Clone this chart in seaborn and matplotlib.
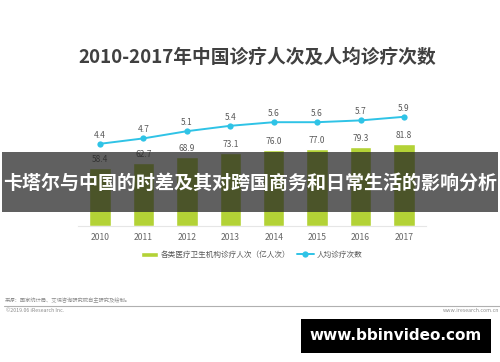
import numpy as np
import pandas as pd
import matplotlib
matplotlib.use("Agg")
import matplotlib.pyplot as plt
from matplotlib.patches import Rectangle
import seaborn as sns

# --------------------------------------------
# Data
# --------------------------------------------
years = ["2010", "2011", "2012", "2013", "2014", "2015", "2016", "2017"]
visits = [58.4, 62.7, 68.9, 73.1, 76.0, 77.0, 79.3, 81.8]      # 亿人次
per_capita = [4.4, 4.7, 5.1, 5.4, 5.6, 5.6, 5.7, 5.9]

title = "2010-2017年中国诊疗人次及人均诊疗次数"
banner = "卡塔尔与中国的时差及其对跨国商务和日常生活的影响分析"
bar_label = "各类医疗卫生机构诊疗人次（亿人次）"
line_label = "人均诊疗次数"

df = pd.DataFrame({"year": years, "visits": visits, "per_capita": per_capita})

# --------------------------------------------
# Style
# --------------------------------------------
sns.set_style("white")
plt.rcParams["font.family"] = ["Noto Sans CJK SC", "DejaVu Sans"]

W, H = 500, 362
fig = plt.figure(figsize=(W / 100, H / 100), dpi=100)
fig.patch.set_facecolor("white")

def fx(px):
    return px / W

def fy(py):
    return 1 - py / H

bar_color = "#b3d236"
line_color = "#2fc3e6"
text_gray = "#595959"

# axes: x from 78.3 to 425.7 px, y from 100 to 226 px
ax = fig.add_axes([fx(78.3), fy(226), fx(425.7 - 78.3), (226 - 100) / H])
sns.barplot(data=df, x="year", y="visits", color=bar_color, width=0.49,
            saturation=1, ax=ax, label=bar_label)
ax.set_xlim(-0.5, 7.5)
ax.set_ylim(0, 126)

for i, v in enumerate(visits):
    ax.text(i, v + 4, f"{v:.1f}", ha="center", va="bottom",
            fontsize=6, color=text_gray)

ax2 = ax.twinx()
sns.lineplot(x=np.arange(len(years)), y=per_capita, ax=ax2, color=line_color,
             marker="o", markersize=4.5, markeredgewidth=0, linewidth=1.4,
             label=line_label, legend=False)
ax2.set_ylim(-3 / 18, -3 / 18 + 126 / 18)
ax2.set_xlim(-0.5, 7.5)
for i, v in enumerate(per_capita):
    ax2.text(i, v + 0.22, f"{v}", ha="center", va="bottom",
             fontsize=6, color=text_gray)

# legend (collect handles, then drop the per-axes legends)
h1, l1 = ax.get_legend_handles_labels()
h2, l2 = ax2.get_legend_handles_labels()
for a in (ax, ax2):
    if a.get_legend() is not None:
        a.get_legend().remove()

for a in (ax, ax2):
    a.set_xlabel("")
    a.set_ylabel("")
    a.set_yticks([])
    for s in a.spines.values():
        s.set_visible(False)
ax.spines["bottom"].set_visible(True)
ax.spines["bottom"].set_color("#e6e6e6")
ax.spines["bottom"].set_linewidth(0.8)
ax.tick_params(axis="x", length=0, labelsize=6.2, labelcolor="#666666", pad=5)

fig.legend(h1 + h2, l1 + l2, loc="center", bbox_to_anchor=(fx(252), fy(255)),
           ncol=2, frameon=False, fontsize=5.5, labelcolor=text_gray,
           handlelength=2.2, handleheight=0.6, columnspacing=0.8,
           handletextpad=0.4)

# title
fig.text(fx(257), fy(57), title, ha="center", va="center", fontsize=13.5,
         fontweight="bold", color="#404040")

# overlay banner
fig.patches.append(Rectangle((fx(2), fy(212)), fx(496), (212 - 152) / H,
                             transform=fig.transFigure, facecolor="#252525",
                             alpha=0.73, edgecolor="none", zorder=5))
fig.text(fx(250), fy(183), banner, ha="center", va="center", fontsize=13.7,
         fontweight="bold", color="white", zorder=6)

# footer
fig.text(fx(5), fy(300), "来源：国家统计局、艾瑞咨询研究院自主研究及绘制。",
         fontsize=3.8, color="#8c8c8c", va="center")
fig.add_artist(plt.Line2D([fx(4), fx(500)], [fy(305.5), fy(305.5)],
                          color="#b0b0b0", linewidth=0.8))
fig.text(fx(6), fy(311), "©2019.06 iResearch Inc.", fontsize=3.8,
         color="#8c8c8c", va="center")
fig.text(fx(499), fy(311), "www.iresearch.com.cn", fontsize=3.8,
         color="#8c8c8c", va="center", ha="right")

# watermark box
fig.patches.append(Rectangle((fx(301), fy(353)), fx(190), (353 - 319) / H,
                             transform=fig.transFigure, facecolor="black",
                             edgecolor="none", zorder=5))
fig.text(fx(396), fy(336), "www.bbinvideo.com", ha="center", va="center",
         fontsize=11, fontweight="bold", color="white",
         family="DejaVu Sans", zorder=6)

fig.savefig("out.png", dpi=100)
